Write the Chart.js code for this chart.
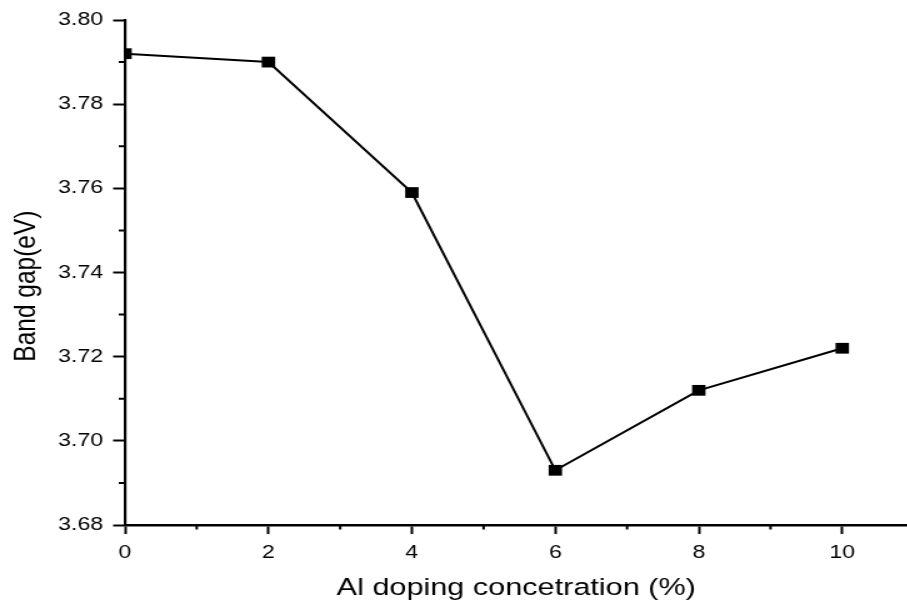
<!DOCTYPE html>
<html>
<head>
<meta charset="utf-8">
<title>Band gap vs Al doping</title>
<script src="https://cdn.jsdelivr.net/npm/chart.js@4.4.0/dist/chart.umd.min.js"></script>
<style>
	html, body { margin: 0; padding: 0; background: #fff; overflow: hidden; }
	/* the source figure is stretched sideways, so the chart is drawn narrow and widened */
	#wrap { width: 726px; height: 603px; transform: scale(1.25, 1); transform-origin: 0 0; }
</style>
</head>
<body>
<div id="wrap"><canvas id="bandGapChart"></canvas></div>
<script>
const dopingLevels = [0, 2, 4, 6, 8, 10];
const bandGapValues = [3.792, 3.790, 3.759, 3.693, 3.712, 3.722];
const xTickValues = [0, 2, 4, 6, 8, 10];
const xMinorValues = [1, 3, 5, 7, 9];
const yTickValues = [3.68, 3.70, 3.72, 3.74, 3.76, 3.78, 3.80];
const yMinorValues = [3.69, 3.71, 3.73, 3.75, 3.77, 3.79];

var fontFamily = "'Liberation Sans', Arial, sans-serif";

// short minor ticks between the labelled ones
var minorTicks = {
	id: 'minorTicks',
	afterDraw: function(chart) {
		var ctx = chart.ctx;
		var xs = chart.scales.x, ys = chart.scales.y;
		ctx.save();
		ctx.strokeStyle = '#000';
		ctx.lineWidth = 2;
		ctx.beginPath();
		xMinorValues.forEach(function(v) {
			var px = xs.getPixelForValue(v);
			ctx.moveTo(px, xs.top);
			ctx.lineTo(px, xs.top + 4.5);
		});
		yMinorValues.forEach(function(v) {
			var py = ys.getPixelForValue(v);
			ctx.moveTo(ys.right, py);
			ctx.lineTo(ys.right - 5, py);
		});
		ctx.stroke();
		ctx.restore();
	}
};

var points = dopingLevels.map(function(x, i) {
	return { x: x, y: bandGapValues[i] };
});

var config = {
	type: 'line',
	data: {
		datasets: [
			{
				label: 'Band gap',
				data: points,
				borderColor: '#000',
				borderWidth: 2,
				backgroundColor: '#000',
				pointStyle: 'rect',
				pointRadius: 7.6,
				pointBackgroundColor: '#000',
				pointBorderWidth: 0,
				tension: 0
			}
		]
	},
	options: {
		responsive: true,
		maintainAspectRatio: false,
		animation: false,
		layout: {
			autoPadding: false,
			padding: { left: 0, top: 20, right: 0, bottom: 0 }
		},
		plugins: {
			legend: false,
			tooltip: { enabled: false }
		},
		scales: {
			x: {
				type: 'linear',
				min: 0,
				max: 10.91,
				afterBuildTicks: function(scale) {
					scale.ticks = xTickValues.map(function(v) { return { value: v }; });
				},
				afterFit: function(scale) {
					scale.height = 78;
					// last label is not at the axis end, so no room is needed for it
					scale.paddingRight = 0;
					scale.paddingLeft = 0;
				},
				border: { display: true, color: '#000', width: 2.5 },
				grid: {
					drawOnChartArea: false,
					drawTicks: true,
					tickLength: 9,
					tickWidth: 2,
					tickColor: '#000'
				},
				ticks: {
					color: '#000',
					padding: 8,
					font: { family: fontFamily, size: 18.5 },
					callback: function(v) { return v; }
				},
				title: {
					display: true,
					text: 'Al doping concetration (%)',
					color: '#000',
					font: { family: fontFamily, size: 24.5 },
					padding: { top: 0, bottom: 0 }
				}
			},
			y: {
				min: 3.68,
				max: 3.80,
				afterBuildTicks: function(scale) {
					scale.ticks = yTickValues.map(function(v) { return { value: v }; });
				},
				afterFit: function(scale) { scale.width = 100; },
				border: { display: true, color: '#000', width: 2.2 },
				grid: {
					drawOnChartArea: false,
					drawTicks: true,
					tickLength: 9.5,
					tickWidth: 2,
					tickColor: '#000'
				},
				ticks: {
					color: '#000',
					padding: 8,
					font: { family: fontFamily, size: 18.5 },
					callback: function(v) { return Number(v).toFixed(2); }
				},
				title: {
					display: true,
					text: 'Band gap(eV)    ',
					color: '#000',
					font: { family: fontFamily, size: 24.5 },
					padding: { top: 7, bottom: 0 }
				}
			}
		}
	},
	plugins: [minorTicks]
};

var bandGapChart = new Chart(document.getElementById('bandGapChart').getContext('2d'), config);
</script>
</body>
</html>
